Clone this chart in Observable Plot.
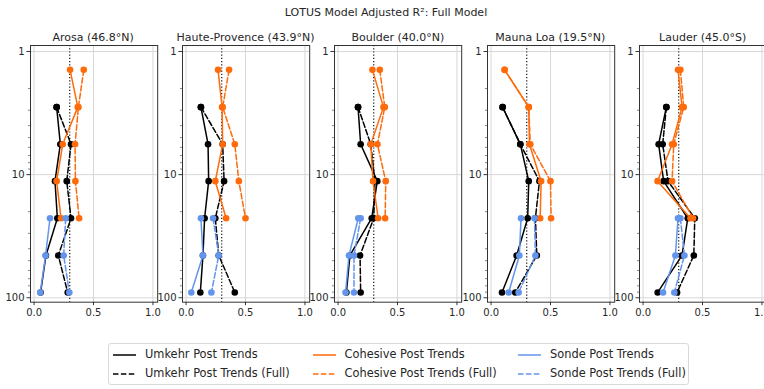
<!DOCTYPE html>
<html><head><meta charset="utf-8">
<script src="https://cdn.jsdelivr.net/npm/d3@7"></script>
<script src="https://cdn.jsdelivr.net/npm/@observablehq/plot@0.6"></script>
<style>
html,body{margin:0;padding:0;background:#fff;overflow:hidden;}
#root{position:relative;width:764px;height:389px;overflow:hidden;font-family:"DejaVu Sans",sans-serif;color:#262626;}
.t{position:absolute;white-space:nowrap;transform:translate(-50%,-50%);line-height:1;}
.panel{position:absolute;}
.panel svg{max-width:none !important;}
.leg{position:absolute;left:108px;top:343px;width:581px;height:42px;border:1px solid #d9d9d9;border-radius:3px;background:#fff;box-sizing:border-box;}
.li{position:absolute;font-size:11.4px;white-space:nowrap;line-height:1;transform:translateY(-50%);}
</style></head><body><div id="root"></div>
<script>
// Pressure levels (hPa), Umkehr layer mid-points
const levels = [1.41, 2.83, 5.66, 11.3, 22.6, 45.3, 90.5];
const stations = ["Arosa (46.8°N)", "Haute-Provence (43.9°N)", "Boulder (40.0°N)", "Mauna Loa (19.5°N)", "Lauder (45.0°S)"];
const xTicks = [0, 0.5, 1];
const yTicks = [1, 10, 100];
const yMinor = [2,3,4,5,6,7,8,9,20,30,40,50,60,70,80,90];
const referenceR2 = 0.3;

// Adjusted R² per station (rows) and level (columns); null = not available
const umkehrPost = [
  [null, 0.19, 0.221, 0.176, 0.196, 0.10, 0.055],
  [null, 0.125, 0.185, 0.19, 0.156, 0.142, 0.12],
  [null, 0.168, 0.19, 0.33, 0.283, 0.10, 0.07],
  [null, 0.097, 0.246, 0.317, 0.308, 0.215, 0.092],
  [null, 0.196, 0.131, 0.173, 0.376, 0.328, 0.123]
];
const umkehrFull = [
  [null, 0.19, 0.311, 0.275, 0.311, 0.204, 0.283],
  [null, 0.125, 0.308, 0.32, 0.246, 0.275, 0.41],
  [null, 0.168, 0.275, 0.31, 0.30, 0.185, 0.19],
  [null, 0.097, 0.246, 0.407, 0.373, 0.385, 0.204],
  [null, 0.196, 0.165, 0.21, 0.435, 0.427, 0.286]
];
const cohesivePost = [
  [0.303, 0.368, 0.241, 0.19, 0.227, null, null],
  [0.269, 0.303, 0.308, 0.246, 0.337, null, null],
  [0.289, 0.382, 0.275, 0.294, 0.337, null, null],
  [0.114, 0.317, 0.323, 0.421, 0.413, null, null],
  [0.294, 0.328, 0.244, 0.122, 0.399, null, null]
];
const cohesiveFull = [
  [0.418, 0.373, 0.345, 0.348, 0.379, null, null],
  [0.362, 0.308, 0.41, 0.444, 0.5, null, null],
  [0.351, 0.393, 0.331, 0.401, 0.396, null, null],
  [0.114, 0.317, 0.33, 0.50, 0.505, null, null],
  [0.314, 0.342, 0.258, 0.244, 0.421, null, null]
];
const sondePost = [
  [null, null, null, null, 0.134, 0.097, 0.052],
  [null, null, null, null, 0.125, 0.142, 0.044],
  [null, null, null, null, 0.17, 0.092, 0.063],
  [null, null, null, null, 0.252, 0.238, 0.148],
  [null, null, null, null, 0.294, 0.272, 0.168]
];
const sondeFull = [
  [null, null, null, null, 0.266, 0.249, 0.297],
  [null, null, null, null, 0.227, 0.275, 0.213],
  [null, null, null, null, 0.19, 0.134, 0.134],
  [null, null, null, null, 0.365, 0.373, 0.232],
  [null, null, null, null, 0.314, 0.348, 0.263]
];

const seriesNames = ["Umkehr Post Trends", "Umkehr Post Trends (Full)", "Cohesive Post Trends", "Cohesive Post Trends (Full)", "Sonde Post Trends", "Sonde Post Trends (Full)"];
const seriesValues = [umkehrPost, umkehrFull, cohesivePost, cohesiveFull, sondePost, sondeFull];
const seriesColors = ["#000000", "#000000", "#ff6a0a", "#ff6a0a", "#6495ed", "#6495ed"];
const seriesDashed = [false, true, false, true, false, true];

const root = document.getElementById("root");

function addText(txt, x, y, size, cls) {
  const d = document.createElement("div");
  d.className = cls || "t";
  d.style.left = x + "px"; d.style.top = y + "px"; d.style.fontSize = size + "px";
  d.textContent = txt;
  root.appendChild(d);
  return d;
}

addText("LOTUS Model Adjusted R²: Full Model", 386, 12, 11);

const frameW = 127.2, frameTop = 45, frameH = 256.7;
const ML = 34, MR = 6, MT = 2, MB = 22;
const firstLeft = 29.5, step = 152.4;

stations.forEach((st, s) => {
  const marks = [
    Plot.gridX(xTicks, {stroke: "#d7d7d7", strokeOpacity: 1, strokeWidth: 1}),
    Plot.gridY(yTicks, {stroke: "#d7d7d7", strokeOpacity: 1, strokeWidth: 1}),
    Plot.ruleX([referenceR2], {stroke: "#111", strokeWidth: 1.2, strokeDasharray: "1.2,2"})
  ];
  seriesValues.forEach((vals, k) => {
    const rows = [];
    vals[s].forEach((v, i) => { if (v != null) rows.push({level: levels[i], r2: v}); });
    marks.push(Plot.line(rows, {x: "r2", y: "level", stroke: seriesColors[k], strokeWidth: 1.5,
      strokeDasharray: seriesDashed[k] ? "5.5,2.4" : null}));
    marks.push(Plot.dot(rows, {x: "r2", y: "level", r: 3.3, fill: seriesColors[k], stroke: "none"}));
  });
  marks.push(Plot.frame({stroke: "#333", strokeWidth: 1}));
  marks.push(Plot.axisX(xTicks, {tickFormat: d => d.toFixed(1), tickSize: 3.5, tickPadding: 3, label: null, fontSize: 10, fill: "#262626", stroke: "#333"}));
  marks.push(Plot.axisY(yTicks, {tickFormat: d => String(d), tickSize: 3.5, tickPadding: 2.5, label: null, fontSize: 10, fill: "#262626", stroke: "#333"}));
  marks.push(Plot.axisY(yMinor, {tickFormat: () => "", tickSize: 2, label: null, stroke: "#333", strokeWidth: 0.6}));

  const W = ML + frameW + MR, H = MT + frameH + MB;
  const svg = Plot.plot({
    width: W, height: H,
    marginLeft: ML, marginRight: MR, marginTop: MT, marginBottom: MB,
    style: {background: "transparent", overflow: "visible", maxWidth: "none", fontFamily: "DejaVu Sans, sans-serif", fontSize: "10px"},
    x: {domain: [-0.03, 1.04]},
    y: {type: "log", domain: [0.894, 108.6], reverse: true},
    marks
  });
  svg.style.width = W + "px"; svg.style.height = H + "px";
  const wrap = document.createElement("div");
  wrap.className = "panel";
  const left = firstLeft + s * step;
  wrap.style.left = (left - ML) + "px";
  wrap.style.top = (frameTop - MT) + "px";
  wrap.style.width = W + "px"; wrap.style.height = H + "px";
  wrap.appendChild(svg);
  root.appendChild(wrap);
  addText(st, left + frameW / 2, 37, 11);
});

// Legend
const leg = document.createElement("div");
leg.className = "leg";
root.appendChild(leg);
const colLine = [113, 312.5, 518];
const colText = [145, 344.5, 550];
const rowY = [355, 374];
seriesNames.forEach((name, k) => {
  const c = Math.floor(k / 2), r = k % 2;
  const ns = "http://www.w3.org/2000/svg";
  const svg = document.createElementNS(ns, "svg");
  svg.setAttribute("width", 24); svg.setAttribute("height", 6);
  svg.style.position = "absolute";
  svg.style.left = colLine[c] + "px"; svg.style.top = (rowY[r] - 3) + "px";
  const ln = document.createElementNS(ns, "line");
  ln.setAttribute("x1", 0); ln.setAttribute("x2", 23); ln.setAttribute("y1", 3); ln.setAttribute("y2", 3);
  ln.setAttribute("stroke", seriesColors[k]); ln.setAttribute("stroke-width", 1.5);
  if (seriesDashed[k]) ln.setAttribute("stroke-dasharray", "5.5,2.4");
  svg.appendChild(ln);
  root.appendChild(svg);
  addText(name, colText[c], rowY[r], 11.4, "li");
});
</script></body></html>
